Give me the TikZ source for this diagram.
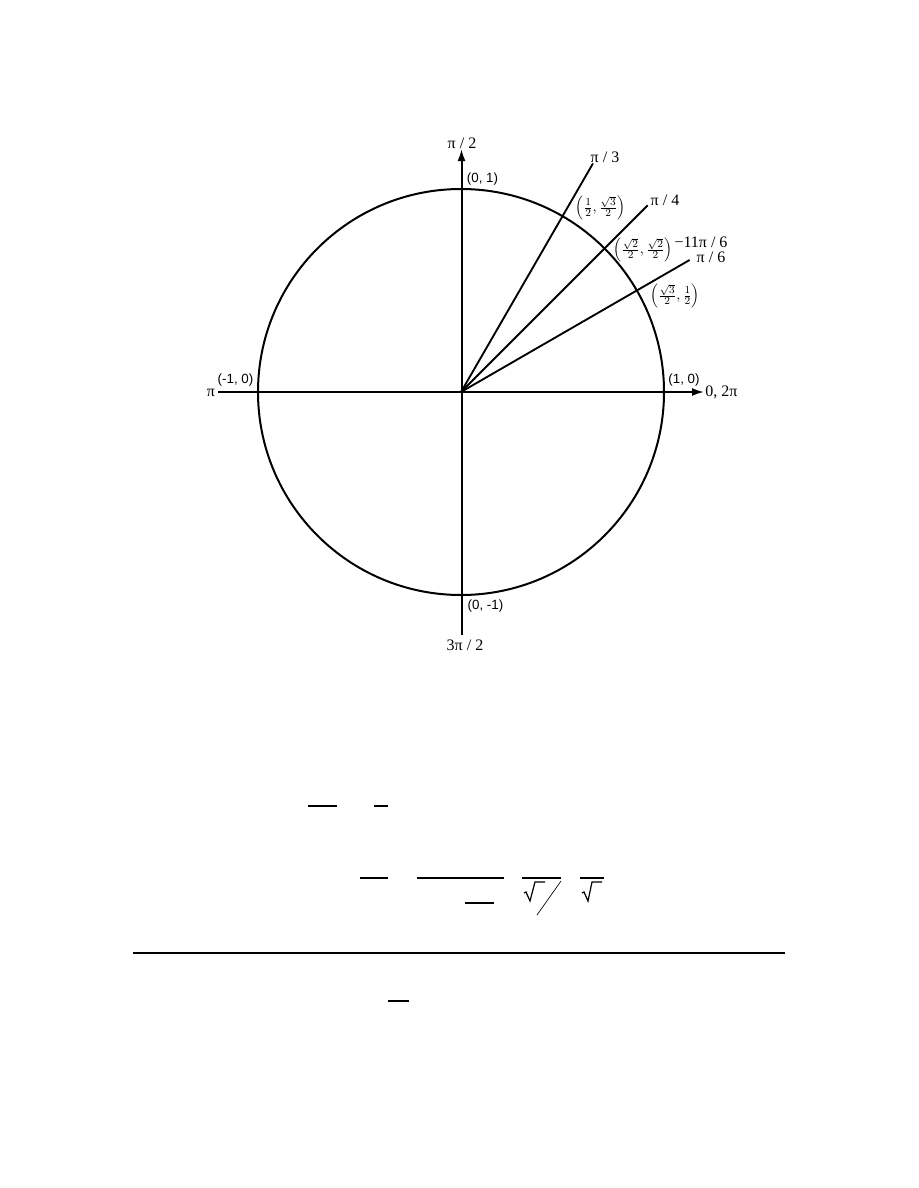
\documentclass[tikz,border=0pt]{standalone}
\usepackage{fontspec}
\setmainfont{Liberation Serif}
\newfontfamily\arial{Liberation Sans}
\usetikzlibrary{arrows.meta}
\begin{document}
\begin{tikzpicture}[x=0.75pt,y=-0.75pt,
  axis/.style={line width=1.5pt,-{Latex[length=9pt,width=6pt]}},
  plain/.style={line width=1.5pt},
  ray/.style={line width=1.4pt},
  ang/.style={font=\fontsize{12}{14}\selectfont,inner sep=0pt},
  pt/.style={font=\arial\fontsize{10}{12}\selectfont,inner sep=0pt},
  frac/.style={font=\fontsize{11}{13}\selectfont,inner sep=0pt},
  bar/.style={line width=0.9pt},
  rule/.style={line width=2pt}]
\useasboundingbox (0,0) rectangle (918,1188);
% centre and axis ends
\coordinate (O) at (461,392);
\coordinate (top) at (461.5,149);
\coordinate (bot) at (461.5,635);
\coordinate (left) at (218,392);
\coordinate (right) at (704,392);
\coordinate (e60) at (593,163.4);
\coordinate (e45) at (647.7,205.3);
\coordinate (e30) at (689.6,260);
% circle
\draw[plain] (O) circle[radius=152.25pt];
% axes
\draw[axis] (bot) -- (top);
\draw[axis] (left) -- (right);
% rays
\draw[ray] (O) -- (e60);
\draw[ray] (O) -- (e45);
\draw[ray] (O) -- (e30);
% angle labels
\node[ang] (l90) at (462,143) {π / 2};
\node[ang] (l60) at (605,157) {π / 3};
\node[ang] (l45) at (665,200) {π / 4};
\node[ang] (l30) at (711,257) {π / 6};
\node[ang] (l330) at (701,242) {−11π / 6};
\node[ang] (l180) at (211,393) {π};
\node[ang,anchor=west] (l0) at (705,392) {0, 2π};
\node[ang] (l270) at (465,645) {3π / 2};
% point labels
\node[pt] (p90) at (482.5,179) {(0, 1)};
\node[pt] (p180) at (235.5,380) {(-1, 0)};
\node[pt] (p0) at (684,380) {(1, 0)};
\node[pt] (p270) at (485.5,606) {(0, -1)};
\node[frac] (p60) at (600.5,208) {$\left(\frac{1}{2},\frac{\sqrt{3}}{2}\right)$};
\node[frac] (p45) at (643,250) {$\left(\frac{\sqrt{2}}{2},\frac{\sqrt{2}}{2}\right)$};
\node[frac] (p30) at (675,296) {$\left(\frac{\sqrt{3}}{2},\frac{1}{2}\right)$};
% stray bars below
\draw[bar] (308,806) -- (337,806);
\draw[bar] (374,806) -- (388,806);
\draw[bar] (360,878) -- (388,878);
\draw[bar] (417,878) -- (504,878);
\draw[bar] (522,878) -- (561,878);
\draw[bar] (580,878) -- (604,878);
\draw[bar] (465,903) -- (494,903);
\draw[line width=0.9pt] (524,893) -- (526,892) -- (530,901) -- (535,882) -- (545,882);
\draw[line width=0.5pt] (561,881) -- (537,915);
\draw[line width=0.9pt] (582,893) -- (584,892) -- (588,901) -- (592,882) -- (602,882);
\draw[rule] (133,953) -- (785,953);
\draw[bar] (388,1001) -- (409,1001);
\end{tikzpicture}
\end{document}
